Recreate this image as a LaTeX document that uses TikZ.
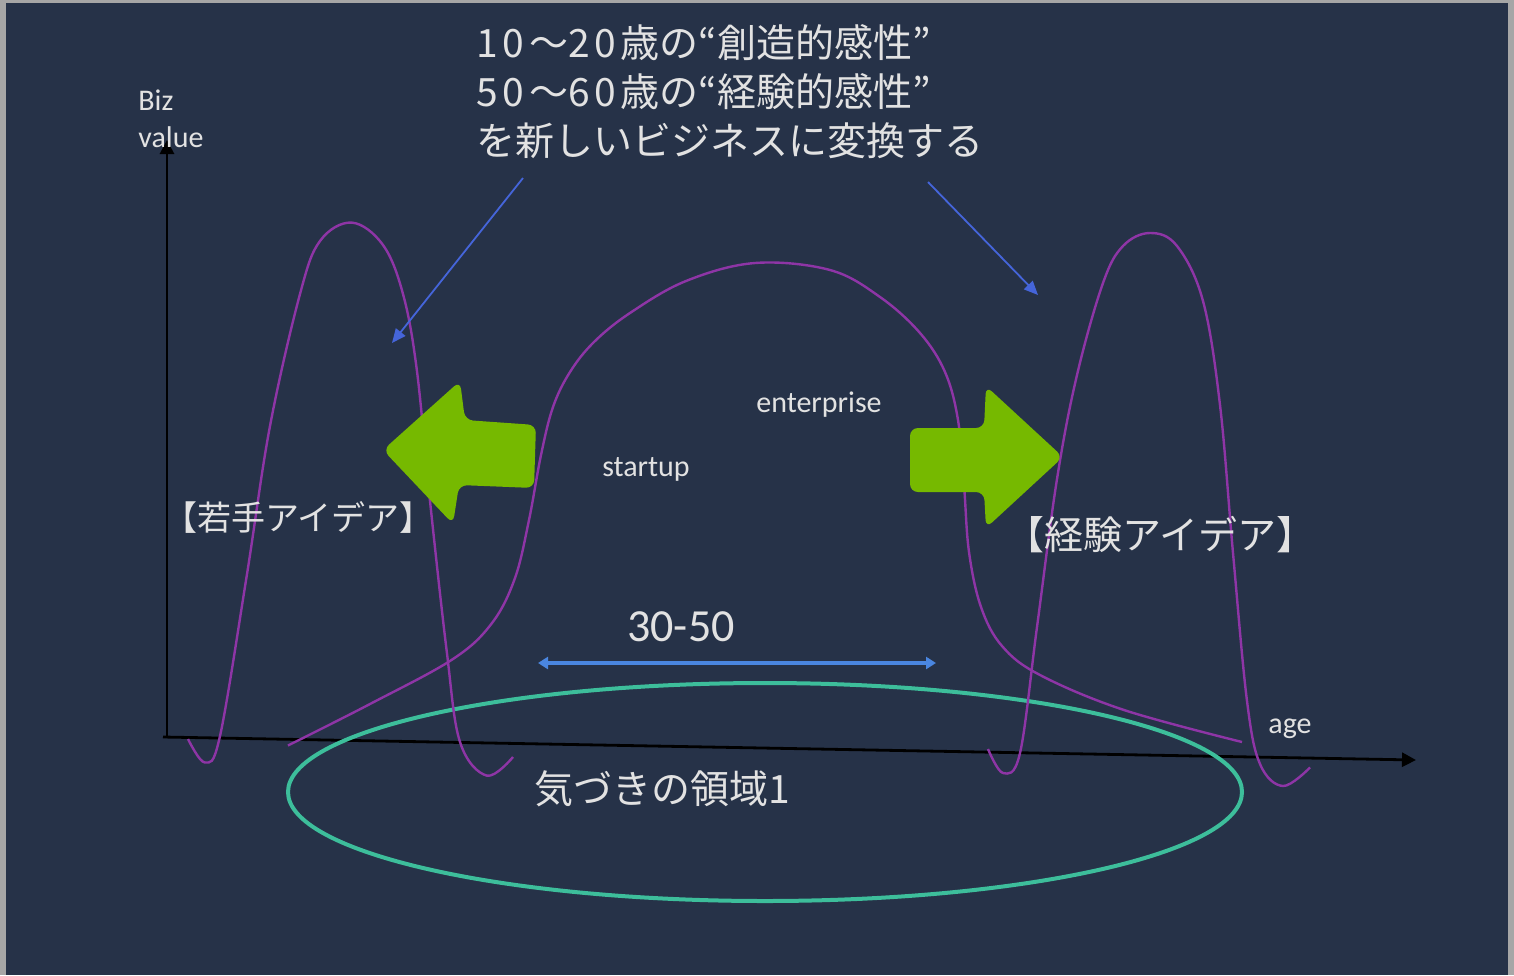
\documentclass[tikz,border=0pt]{standalone}
\usepackage{fontspec}
\setmainfont{Carlito}
\newfontfamily\jp{Noto Sans CJK JP}
\usetikzlibrary{arrows.meta,shapes.geometric}
\definecolor{bgnavy}{HTML}{263248}
\definecolor{framegrey}{HTML}{A6A6A6}
\definecolor{txtgrey}{HTML}{E2E2E2}
\definecolor{curvepurple}{HTML}{8E35A6}
\definecolor{pointblue}{HTML}{4565DA}
\definecolor{spanblue}{HTML}{4A86E0}
\definecolor{ovalteal}{HTML}{3DBE9B}
\definecolor{bigarrowgreen}{HTML}{76B900}
\newcommand\dgk{\kern0.12em}
\tikzset{
  axisline/.style={draw=black, line width=1.4pt, -{Triangle[length=7pt,width=7pt]}},
  curve/.style={draw=curvepurple, line width=1.2pt},
  pointer/.style={draw=pointblue, line width=0.9pt, -{Triangle[length=7pt,width=6pt]}},
  spanarrow/.style={draw=spanblue, line width=2pt, {Triangle[length=5pt,width=6pt]}-{Triangle[length=5pt,width=6pt]}},
  oval/.style={draw=ovalteal, line width=2pt},
  bigarrow/.style={fill=bigarrowgreen, rounded corners=4pt},
  lattext/.style={text=txtgrey, font=\fontsize{15}{18}\selectfont, inner sep=0pt},
  jptext/.style={text=txtgrey, font=\jp\fontsize{19.5}{24.5}\selectfont, inner sep=0pt},
}
\begin{document}
\begin{tikzpicture}[x=0.5pt,y=-0.5pt]
\useasboundingbox (0,0) rectangle (1514,975);
\fill[framegrey] (0,0) rectangle (1514,975);
\fill[bgnavy] (6,3) rectangle (1508,975);

% axes
\coordinate (origin) at (163,737);
\coordinate (ytop) at (167,140);
\coordinate (xend) at (1416,760);
\draw[axisline] (167,737) -- (ytop);
\draw[axisline] (origin) -- (xend);

% ellipse
\node[oval, ellipse, minimum width=477pt, minimum height=109pt, inner sep=0pt] (region) at (765,792) {};

% purple curves
\draw[curve] plot[smooth, tension=0.6] coordinates {
 (188,739) (205,762.5) (220,736) (246.7,576) (270,426) (300,294) (320,241) (351.7,222.6)
 (383,245) (403,294) (416.7,369) (430,501) (446.7,651) (460,742) (486.7,775.6) (513,757)};
\draw[curve] plot[smooth, tension=0.6] coordinates {
 (288,745.5) (370,704) (453,659) (492,623) (515,578) (529,520) (541,455) (553,407) (570,372)
 (594,342) (630,313) (686,281) (755,263) (830,270) (880,297) (920,333) (945,372) (958,420)
 (964,485) (969,552) (981,607) (1002,646) (1040,675) (1124,710) (1242,742)};
\draw[curve] plot[smooth, tension=0.6] coordinates {
 (988,749) (1003,773) (1020,753) (1037,627) (1057,479) (1077,375) (1103,283) (1123,246)
 (1150,233) (1177,246) (1203,301) (1220,405) (1233,553) (1247,701) (1260,764) (1283,786) (1310,767.5)};

% green arrows
\fill[bigarrow] (383,450) -- (460,381) -- (465,420) -- (536,425) -- (534,488) -- (459,485) -- (453,524) -- cycle;
\fill[bigarrow] (910,428) -- (984,428) -- (986,386) -- (1063,457) -- (986,528) -- (984,492) -- (910,492) -- cycle;

% texts
\node[lattext, anchor=west] (biz) at (138,100) {Biz};
\node[lattext, anchor=west] (value) at (138,137) {value};
\node[lattext] (age) at (1290,729) {age};
\node[lattext] (enterprise) at (819,405) {enterprise};
\node[lattext] (startup) at (646,469) {startup};
\node[lattext, font=\fontsize{23}{26}\selectfont] (span) at (681,627) {30-50};
\node[jptext, anchor=west, align=left] (title) at (476,92) {1\dgk{}0\dgk{}～2\dgk{}0\dgk{}歳の“創造的感性”\\5\dgk{}0\dgk{}～6\dgk{}0\dgk{}歳の“経験的感性”\\を新しいビジネスに変換する};
\node[jptext, font=\jp\fontsize{17}{20}\selectfont, anchor=west] (young) at (163,517) {【若手アイデア】};
\node[jptext, font=\jp\fontsize{19.5}{22}\selectfont, anchor=west] (exper) at (1005,535) {【経験アイデア】};
\node[jptext, font=\jp\fontsize{19.5}{24}\selectfont] (aware) at (662,789) {気づきの領域1};

% pointers
\coordinate (pl) at (523,178);
\coordinate (pr) at (928,182);
\coordinate (tl) at (392,343);
\coordinate (tr) at (1038,295);
\draw[pointer] (pl) -- (tl);
\draw[pointer] (pr) -- (tr);
\coordinate (sl) at (538,663);
\coordinate (sr) at (936,663);
\draw[spanarrow] (sl) -- (sr);
\end{tikzpicture}
\end{document}
